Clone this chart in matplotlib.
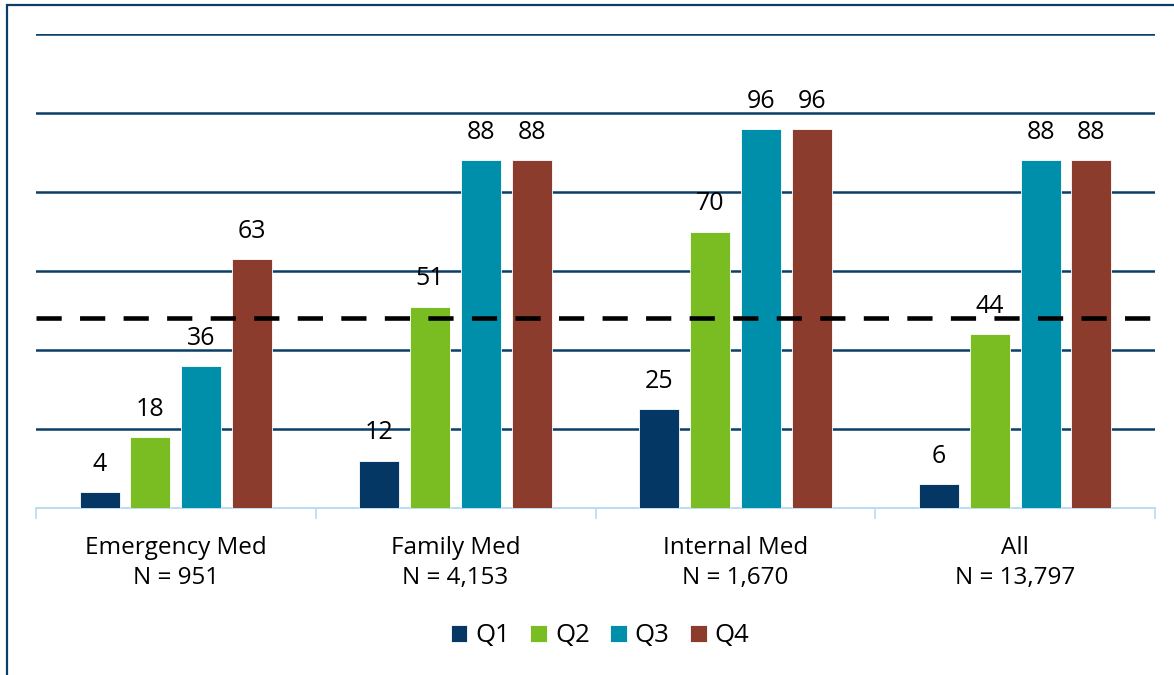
"""Grouped bar chart of quartile values by specialty, with a dashed reference line."""

from matplotlib import pyplot as plt
from matplotlib.patches import Rectangle
import numpy as np

# Data.
categories = ["Emergency Med\nN = 951", "Family Med\nN = 4,153", "Internal Med\nN = 1,670", "All\nN = 13,797"]
quartiles = ["Q1", "Q2", "Q3", "Q4"]
q1 = [4, 12, 25, 6]
q2 = [18, 51, 70, 44]
q3 = [36, 88, 96, 88]
q4 = [63, 88, 96, 88]
reference_value = 48
y_ticks = [20, 40, 60, 80, 100, 120]

colours = ["#053764", "#7abd23", "#008fab", "#8b3c2d"]
grid_colour = "#0b3d66"
axis_colour = "#bcdcf2"

plt.rcParams["font.family"] = ["Open Sans", "DejaVu Sans"]

fig = plt.figure(figsize=(11.74, 6.75), dpi=100)
ax = fig.add_axes([36 / 1174, 1 - 508 / 675, (1155 - 36) / 1174, (508 - 34) / 675])

x = np.arange(len(categories))
step = 0.182
width = 0.143
series = [q1, q2, q3, q4]

for i, (values, colour, name) in enumerate(zip(series, colours, quartiles)):
    positions = x + (i - 1.5) * step
    bars = ax.bar(positions, values, width=width, color=colour, edgecolor="white",
                  linewidth=0.6, label=name, zorder=3)
    for bar, value in zip(bars, values):
        ax.annotate(str(value), (bar.get_x() + bar.get_width() / 2, value),
                    xytext=(0, 11), textcoords="offset points",
                    ha="center", va="bottom", fontsize=18, zorder=5)

# Horizontal gridlines in dark navy behind the bars.
for tick in y_ticks:
    ax.axhline(tick, color=grid_colour, linewidth=1.8, zorder=1)

# Dashed reference line across the plot.
ax.axhline(reference_value, color="black", linewidth=3.3, linestyle=(0, (5.5, 4)), zorder=4)

ax.set_xlim(-0.5, len(categories) - 0.5)
ax.set_ylim(0, 120)
ax.set_yticks([])
ax.set_xticks(x)
ax.set_xticklabels(categories, fontsize=17.5, linespacing=1.35)
ax.tick_params(axis="x", length=0, pad=20)

# Light blue category boundary ticks under the baseline.
ax.set_xticks(np.arange(len(categories) + 1) - 0.5, minor=True)
ax.tick_params(axis="x", which="minor", length=8, width=1.2, color=axis_colour)

for side in ["top", "right", "left"]:
    ax.spines[side].set_visible(False)
ax.spines["bottom"].set_color(axis_colour)
ax.spines["bottom"].set_linewidth(1.5)

handles, labels = ax.get_legend_handles_labels()
fig.legend(handles, labels, loc="center", bbox_to_anchor=(0.511, 1 - 636 / 675), ncol=4,
           frameon=False, fontsize=18.5, handlelength=0.65, handleheight=0.65,
           handletextpad=0.3, columnspacing=0.8)

# Outer frame, only its top and left edges fall inside the picture.
fig.patches.append(Rectangle((7 / 1174, -0.1), 1.2, 1.1 - 5 / 675, transform=fig.transFigure,
                             fill=False, edgecolor=grid_colour, linewidth=1.6))

fig.savefig("out.png", dpi=100)
